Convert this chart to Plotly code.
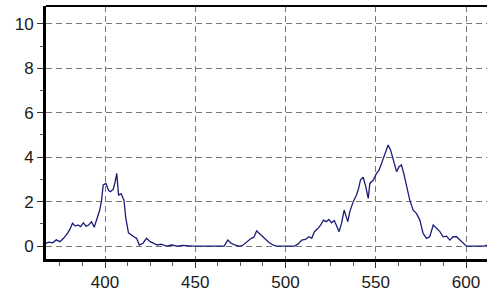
import plotly.graph_objects as go

wavelength = [367, 369, 371, 373, 375, 377, 379, 380.5, 382, 383.5, 385, 386.5, 388, 389.5, 391, 392.5,
              394, 395.5, 397, 398, 399, 400.5, 402, 403, 404.5, 405.5, 406.5, 407.5, 409, 410.5, 411.5,
              413, 414.5, 416, 417.5, 419, 421, 423, 425, 427, 429, 431, 434, 437, 440, 443, 446, 449,
              452, 455, 458, 461, 464, 466, 468, 470, 472, 474, 476, 478.5, 481, 482.5, 484, 485.5, 487,
              489, 491, 493, 495, 500, 505, 507, 509, 511, 513, 514.5, 516, 518, 519.5, 521, 522.5, 524,
              525.5, 527, 528.5, 529.7, 531, 532.5, 533.5, 534.5, 535.6, 537.5, 539.3, 540.5, 541.5, 543,
              544.5, 545.8, 546.7, 548.6, 550.4, 551.8, 553.2, 555, 556.8, 558.2, 559.6, 561.5, 562.9,
              564.2, 565.5, 567, 568.8, 570.7, 572.5, 574.4, 576.2, 578.1, 579.9, 581.8, 583.6, 585.5,
              587.3, 589.2, 591, 592.8, 594.7, 596.5, 598.4, 600.2, 605, 610, 612]

intensity = [0.12, 0.18, 0.15, 0.28, 0.2, 0.35, 0.55, 0.75, 1.03, 0.9, 0.95, 0.88, 1.05, 0.9, 0.95, 1.1,
             0.85, 1.26, 1.6, 2.0, 2.75, 2.82, 2.5, 2.45, 2.55, 2.85, 3.27, 2.3, 2.35, 2.05, 1.26,
             0.6, 0.5, 0.42, 0.35, 0.05, 0.13, 0.35, 0.2, 0.12, 0.05, 0.09, 0.0, 0.05, 0.0, 0.03, 0.0, 0.0,
             0.0, 0.0, 0.0, 0.0, 0.02, 0.0, 0.27, 0.12, 0.05, 0.0, 0.02, 0.2, 0.35, 0.4, 0.69, 0.57, 0.45,
             0.27, 0.15, 0.05, 0.0, 0.0, 0.0, 0.1, 0.27, 0.3, 0.42, 0.35, 0.65, 0.8, 0.95, 1.17, 1.1, 1.2,
             1.05, 1.15, 0.9, 0.65, 1.02, 1.62, 1.35, 1.1, 1.55, 2.0, 2.3, 2.6, 2.97, 3.1,
             2.65, 2.15, 2.82, 2.97, 3.27, 3.42, 3.72, 4.17, 4.55, 4.32, 3.87, 3.35, 3.57,
             3.65, 3.27, 2.75, 2.07, 1.62, 1.47, 1.17, 0.57, 0.35, 0.42, 0.95, 0.8, 0.65,
             0.42, 0.45, 0.27, 0.42, 0.42, 0.27, 0.12, 0.0, 0.0, 0.0, 0.05]

x_ticks = [400, 450, 500, 550, 600]
y_ticks = [0, 2, 4, 6, 8, 10]

fig = go.Figure()
fig.add_trace(go.Scatter(x=wavelength, y=intensity, mode="lines",
                         line=dict(color="#1c1c78", width=1.3), showlegend=False))

grid = dict(showgrid=True, gridcolor="#7a7a7a", gridwidth=1, griddash="6px,4px")
font = dict(family="Liberation Sans, Arial, sans-serif", size=17, color="#1a1a1a")

fig.update_layout(
    width=487, height=293,
    margin=dict(l=46, r=0, t=6, b=34),
    paper_bgcolor="white", plot_bgcolor="white",
    xaxis=dict(range=[367.3, 611.6], tickvals=x_ticks, ticks="outside", ticklen=6, tickwidth=1,
               tickcolor="#333", showline=True, linecolor="black", linewidth=3, zeroline=False,
               tickfont=font, minor=dict(dtick=12.5, ticks="outside", ticklen=4, tickcolor="#555", showgrid=False),
               **grid),
    yaxis=dict(range=[-0.58, 10.8], tickvals=y_ticks, ticks="outside", ticklen=6, tickwidth=1,
               tickcolor="#333", showline=True, linecolor="black", linewidth=3, zeroline=False,
               tickfont=font, minor=dict(dtick=1, ticks="outside", ticklen=3, tickcolor="#555", showgrid=False),
               **grid),
    shapes=[dict(type="line", xref="paper", yref="paper", x0=0, x1=1, y0=1, y1=1,
                 line=dict(color="black", width=2))],
)

fig.write_html("out.html", config={"displayModeBar": False},
               post_script="document.body.style.margin='0';document.body.style.overflow='hidden';")
